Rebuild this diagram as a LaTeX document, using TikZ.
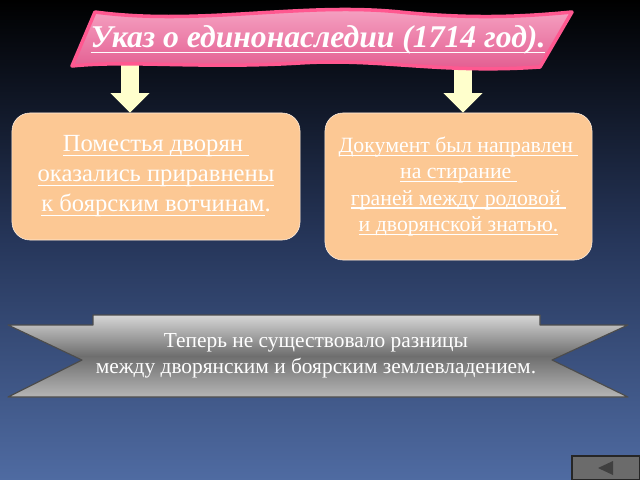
\documentclass[tikz,border=0pt]{standalone}
\usepackage{fontspec}
\setmainfont{Liberation Serif}
\newcommand{\uln}[1]{\setbox0\hbox{#1}\rlap{\rule[-0.16em]{\wd0}{0.8pt}}\box0}
\usetikzlibrary{arrows.meta,positioning}
\definecolor{peach}{HTML}{FCC894}
\definecolor{pinkTop}{HTML}{F7A9C7}
\definecolor{pinkBot}{HTML}{E2588D}
\definecolor{pinkGlow}{HTML}{FF2E74}
\definecolor{paleYellow}{HTML}{FFFFCC}
\definecolor{navyMid}{HTML}{26365A}
\definecolor{navyBot}{HTML}{4F6BA2}
\definecolor{ribLight}{HTML}{D6D6D6}
\definecolor{ribDark}{HTML}{6E6E6E}

\begin{document}
\begin{tikzpicture}[x=0.025cm, y=-0.025cm]
 	\tikzstyle{card}=[rectangle, rounded corners=4.5mm, fill=peach, draw=white!70!peach, thin, text=white, align=center, inner sep=0mm]
 	\tikzstyle{connect}=[-{Triangle[width=27pt,length=14pt]}, line width=13pt, draw=paleYellow]
 	\tikzstyle{navbtn}=[rectangle, minimum width=1.7cm, minimum height=0.6cm, fill=black!58, draw=black!85, thick]
 	\useasboundingbox (0,0) rectangle (640,480);
 	\shade[top color=black, bottom color=navyBot, middle color=navyMid] (0,0) rectangle (640,480);
 	\node[card, minimum width=7.2cm, minimum height=3.175cm, font=\fontsize{17.5}{21.3}\selectfont] (left) at (156,176.5) {\uln{Поместья дворян }\\ \uln{оказались приравнены}\\ \uln{к боярским вотчинам}.};
 	\node[card, minimum width=6.675cm, minimum height=3.675cm, font=\fontsize{15.5}{18.6}\selectfont] (right) at (458.5,186.5) {\uln{Документ был направлен }\\ \uln{на стирание }\\ \uln{граней между родовой }\\ \uln{и дворянской знатью.}};
 	\coordinate (s1) at (130,40);
 	\coordinate (s2) at (463,40);
 	\path (s1) edge [connect] (s1 |- left.north)
 		(s2) edge [connect] (s2 |- right.north);
 	% title banner
 	\draw[line width=2.5pt, draw=pinkGlow!80, top color=pinkTop, bottom color=pinkBot, line join=round]
 		(95,12) .. controls (200,26) and (300,2) .. (400,12) .. controls (470,19) and (520,17) .. (572,12)
 		-- (540,67) .. controls (440,74) and (380,58) .. (300,63) .. controls (200,69) and (130,60) .. (72,66) -- cycle;
 	\node[text=white, font=\fontsize{22.5}{26}\selectfont\bfseries\itshape] (title) at (318,40) {\uln{Указ о единонаследии (1714 год).}};
 	% bottom ribbon
 	\draw[draw=black!70, thick, top color=ribLight, bottom color=ribLight!85!black, middle color=ribDark, line join=round]
 		(8,325) -- (93,325) -- (93,315) -- (540,315) -- (540,325) -- (628,325) -- (552,360) -- (628,397) -- (8,397) -- (82,360) -- cycle;
 	\node[text=white, align=center, font=\fontsize{15.2}{18.6}\selectfont] (note) at (316,356) {Теперь не существовало разницы\\ между дворянским и боярским землевладением.};
 	\node[navbtn] (back) at (606,468) {};
 	\fill[black!75] (598,468) -- (613,461) -- (613,475) -- cycle;
\end{tikzpicture}
\end{document}
